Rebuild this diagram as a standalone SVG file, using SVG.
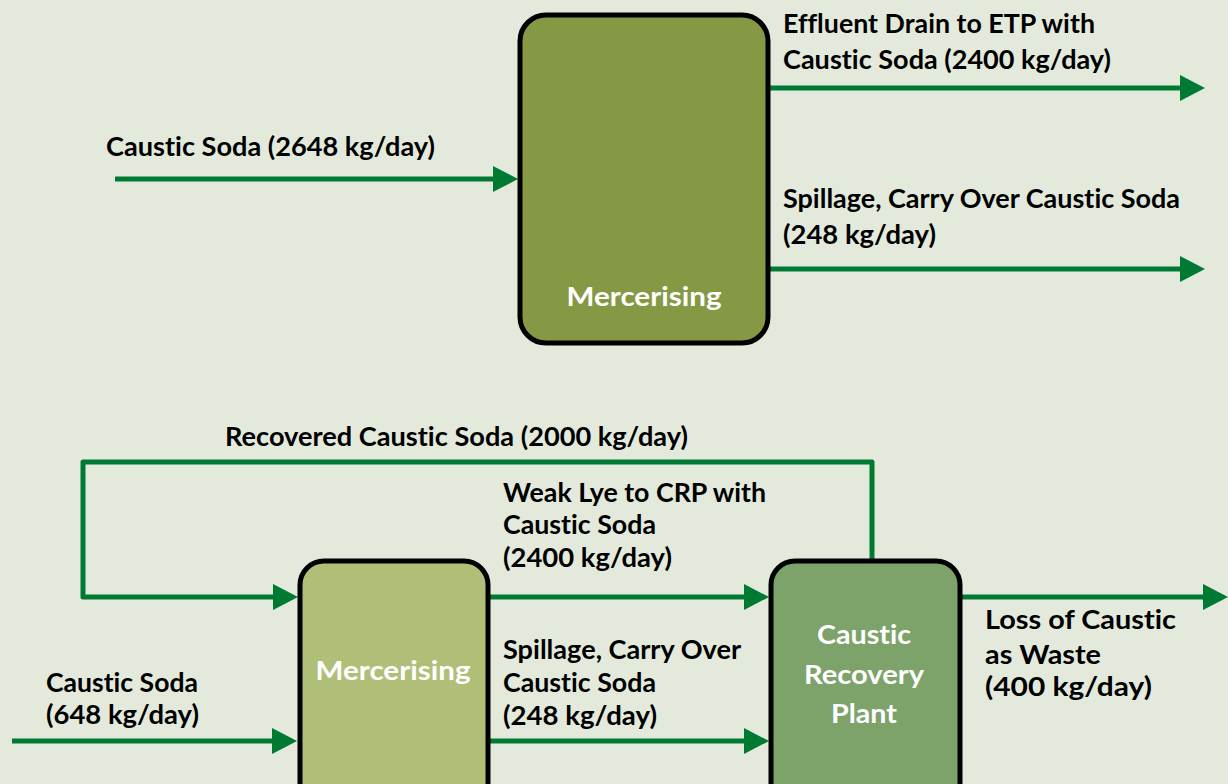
<svg xmlns="http://www.w3.org/2000/svg" width="1228" height="784" viewBox="0 0 1228 784">
<style>
.bg{fill:#E3EADC}
.box{stroke:#000;stroke-width:5}
.ln{fill:none;stroke:#007A33;stroke-width:5;stroke-linejoin:round;marker-end:url(#ah)}
.t{font-family:Lato,"Liberation Sans",sans-serif;font-weight:700;font-size:26px;fill:#000;font-variant-ligatures:none}
.w{font-family:Lato,"Liberation Sans",sans-serif;font-weight:700;font-size:27px;fill:#fff;text-anchor:middle;font-variant-ligatures:none}
</style>
<defs>
<marker id="ah" markerUnits="userSpaceOnUse" markerWidth="25" markerHeight="26" refX="3" refY="13" orient="auto">
<path d="M0,0 L25,13 L0,26 z" fill="#007A33"/>
</marker>
</defs>
<rect class="bg" x="0" y="0" width="1228" height="784"/>
<g id="connectors">
<path class="ln" d="M115,179 H496"/>
<path class="ln" d="M770,88 H1183"/>
<path class="ln" d="M770,269 H1183"/>
<path class="ln" d="M872,560 V462 H83 V597 H276"/>
<path class="ln" d="M490,597 H747"/>
<path class="ln" d="M490,741 H747"/>
<path class="ln" d="M12,741 H275"/>
<path class="ln" d="M962,597 H1206"/>
</g>
<g id="merc-top">
<rect class="box" x="520" y="15" width="248" height="328" rx="26" fill="#859944"/>
<text class="w" x="644" y="306" textLength="155" lengthAdjust="spacingAndGlyphs">Mercerising</text>
</g>
<g id="merc-bottom">
<rect class="box" x="300" y="561" width="188" height="250" rx="24" fill="#B0BF78"/>
<text class="w" x="393" y="680" textLength="155" lengthAdjust="spacingAndGlyphs">Mercerising</text>
</g>
<g id="crp">
<rect class="box" x="771" y="561" width="189" height="250" rx="24" fill="#7DA36B"/>
<text class="w" x="864" y="644" textLength="94" lengthAdjust="spacingAndGlyphs">Caustic</text>
<text class="w" x="864" y="684" textLength="120" lengthAdjust="spacingAndGlyphs">Recovery</text>
<text class="w" x="864" y="723" textLength="66" lengthAdjust="spacingAndGlyphs">Plant</text>
</g>
<g id="labels">
<text class="t" x="783" y="33" textLength="312" lengthAdjust="spacingAndGlyphs">Effluent Drain to ETP with</text>
<text class="t" x="783" y="69" textLength="328" lengthAdjust="spacingAndGlyphs">Caustic Soda (2400 kg/day)</text>
<text class="t" x="106" y="156" textLength="329" lengthAdjust="spacingAndGlyphs">Caustic Soda (2648 kg/day)</text>
<text class="t" x="783" y="208" textLength="397" lengthAdjust="spacingAndGlyphs">Spillage, Carry Over Caustic Soda</text>
<text class="t" x="783" y="244" textLength="153" lengthAdjust="spacingAndGlyphs">(248 kg/day)</text>
<text class="t" x="225" y="446" textLength="463" lengthAdjust="spacingAndGlyphs">Recovered Caustic Soda (2000 kg/day)</text>
<text class="t" x="503" y="502" textLength="263" lengthAdjust="spacingAndGlyphs">Weak Lye to CRP with</text>
<text class="t" x="503" y="534" textLength="153" lengthAdjust="spacingAndGlyphs">Caustic Soda</text>
<text class="t" x="503" y="567" textLength="169" lengthAdjust="spacingAndGlyphs">(2400 kg/day)</text>
<text class="t" x="503" y="659" textLength="238" lengthAdjust="spacingAndGlyphs">Spillage, Carry Over</text>
<text class="t" x="503" y="692" textLength="153" lengthAdjust="spacingAndGlyphs">Caustic Soda</text>
<text class="t" x="503" y="725" textLength="154" lengthAdjust="spacingAndGlyphs">(248 kg/day)</text>
<text class="t" x="46" y="692" textLength="152" lengthAdjust="spacingAndGlyphs">Caustic Soda</text>
<text class="t" x="46" y="724" textLength="153" lengthAdjust="spacingAndGlyphs">(648 kg/day)</text>
<text class="t" x="985" y="629" textLength="191" lengthAdjust="spacingAndGlyphs">Loss of Caustic</text>
<text class="t" x="985" y="664" textLength="116" lengthAdjust="spacingAndGlyphs">as Waste</text>
<text class="t" x="985" y="696" textLength="167" lengthAdjust="spacingAndGlyphs">(400 kg/day)</text>
</g>
</svg>
